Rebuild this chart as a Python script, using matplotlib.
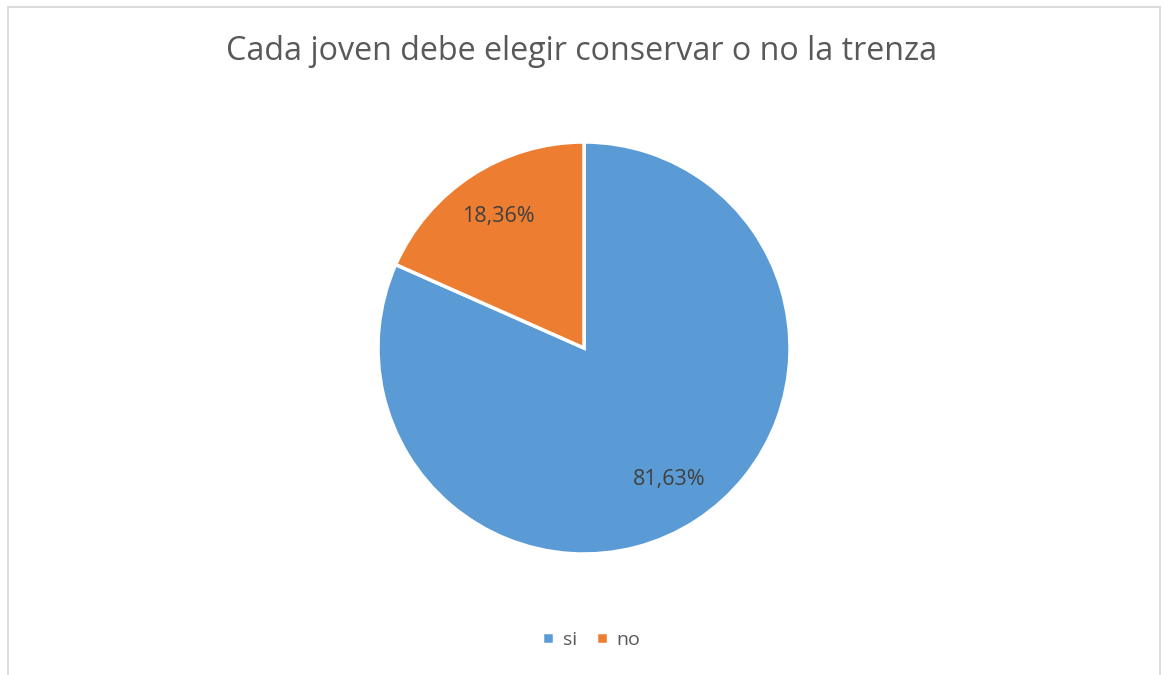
import matplotlib.pyplot as plt
from matplotlib.patches import Rectangle

plt.rcParams['font.family'] = ['Open Sans', 'DejaVu Sans']

labels = ['si', 'no']
values = [81.63, 18.36]
colors = ['#5b9bd5', '#ed7d31']
title = 'Cada joven debe elegir conservar o no la trenza'

W, H = 1164, 675
fig = plt.figure(figsize=(W / 100, H / 100), dpi=100)

# light grey chart border (bottom edge runs off the picture)
fig.patches.append(Rectangle((8 / W, -0.05), (1160 - 8) / W, 1.05 - 6.5 / H,
                             transform=fig.transFigure, fill=False,
                             edgecolor='#d9d9d9', linewidth=1.3))

cx, cy, r = 584, 348, 206
ax = fig.add_axes([(cx - r) / W, (H - cy - r) / H, 2 * r / W, 2 * r / H])

wedges, texts, autotexts = ax.pie(
    values, colors=colors, startangle=90, counterclock=False,
    autopct='%.2f%%', pctdistance=0.76,
    wedgeprops=dict(edgecolor='white', linewidth=2.5),
    textprops=dict(color='#404040', fontsize=15.5))
# show the original values with a decimal comma
for t, v in zip(autotexts, values):
    t.set_text(f'{v:.2f}%'.replace('.', ','))
ax.set_xlim(-1, 1)
ax.set_ylim(-1, 1)
ax.set_aspect('equal')

fig.text(0.5, (H - 52) / H, title, ha='center', va='center',
         fontsize=23.2, color='#595959')

fig.legend(wedges, labels, loc='center', bbox_to_anchor=(0.508, (H - 640) / H),
           ncol=2, frameon=False, fontsize=14, handlelength=0.6, handleheight=0.6,
           handletextpad=0.45, columnspacing=1.0, labelcolor='#595959')

fig.savefig('out.png', dpi=100)
